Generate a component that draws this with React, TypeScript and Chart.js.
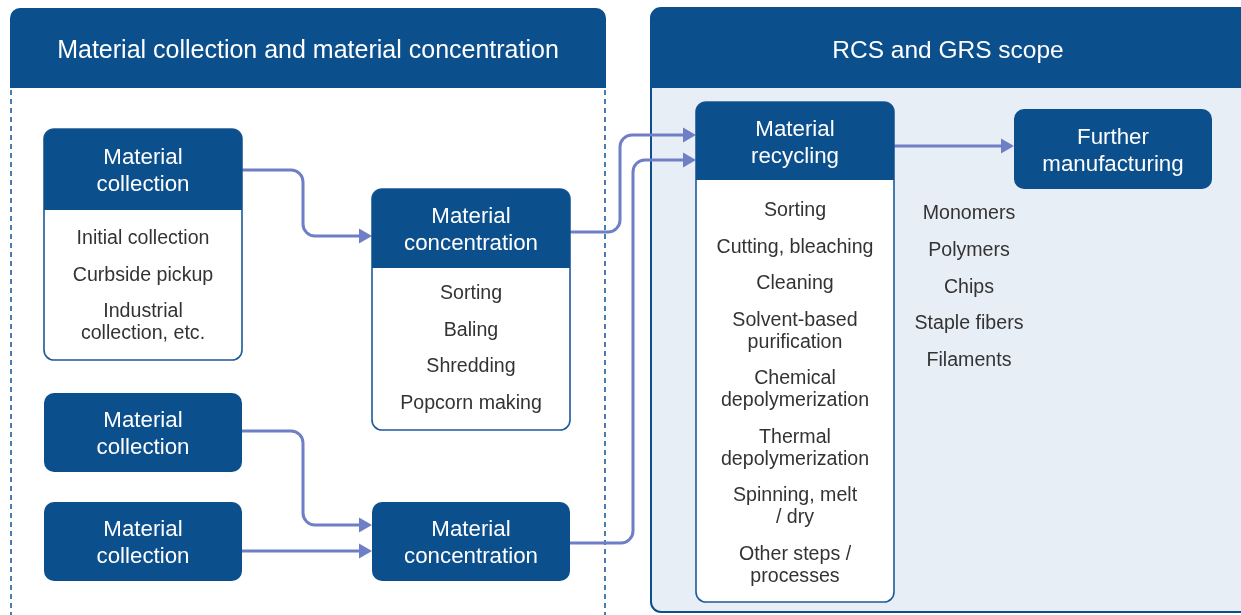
import React, { useEffect, useRef } from "react";
import { Chart, registerables } from "chart.js";

Chart.register(...registerables);

// ---- Text content (data) ----
const panelTitles = ["Material collection and material concentration", "RCS and GRS scope"];
const boxTitles = [
  "Material\ncollection",
  "Material\nconcentration",
  "Material\nrecycling",
  "Further\nmanufacturing",
];
const collectionSteps = ["Initial collection", "Curbside pickup", "Industrial\ncollection, etc."];
const concentrationSteps = ["Sorting", "Baling", "Shredding", "Popcorn making"];
const recyclingSteps = [
  "Sorting",
  "Cutting, bleaching",
  "Cleaning",
  "Solvent-based\npurification",
  "Chemical\ndepolymerization",
  "Thermal\ndepolymerization",
  "Spinning, melt\n/ dry",
  "Other steps /\nprocesses",
];
const outputProducts = ["Monomers", "Polymers", "Chips", "Staple fibers", "Filaments"];

// ---- Layout (axis units; axes span the whole canvas) ----
const W = 1241;
const H = 615;
const DARK = "#0c4f8d";
const ARROW = "#6e7fc6";
const BODY_TEXT = "#333333";
const FONT = '"Liberation Sans", Arial, Helvetica, sans-serif';
const TEXT_SHIFT = 1.5;

type Box = { title: number; items?: string[]; x0: number; x1: number; y0: number; yh: number; y1: number; first?: number };
const boxes: Box[] = [
  { title: 0, items: collectionSteps, x0: 44, x1: 242, y0: 129, yh: 210, y1: 360, first: 237.5 },
  { title: 1, items: concentrationSteps, x0: 372, x1: 570, y0: 189, yh: 268, y1: 430, first: 292.5 },
  { title: 0, x0: 44, x1: 242, y0: 393, yh: 472, y1: 472 },
  { title: 0, x0: 44, x1: 242, y0: 502, yh: 581, y1: 581 },
  { title: 1, x0: 372, x1: 570, y0: 502, yh: 581, y1: 581 },
  { title: 2, items: recyclingSteps, x0: 696, x1: 894, y0: 102, yh: 180, y1: 602, first: 209.5 },
  { title: 3, x0: 1014, x1: 1212, y0: 109, yh: 189, y1: 189 },
];
const arrows: number[][][] = [
  [[242, 170], [303, 170], [303, 236], [372, 236]],
  [[242, 431], [303, 431], [303, 525], [372, 525]],
  [[242, 551], [372, 551]],
  [[570, 232], [620, 232], [620, 135], [696, 135]],
  [[570, 543], [633, 543], [633, 160], [696, 160]],
  [[894, 146], [1014, 146]],
];

function rr(ctx: CanvasRenderingContext2D, x: number, y: number, w: number, h: number, r: number[]) {
  const [tl, tr, br, bl] = r;
  ctx.beginPath();
  ctx.moveTo(x + tl, y);
  ctx.lineTo(x + w - tr, y);
  ctx.arcTo(x + w, y, x + w, y + tr, tr);
  ctx.lineTo(x + w, y + h - br);
  ctx.arcTo(x + w, y + h, x + w - br, y + h, br);
  ctx.lineTo(x + bl, y + h);
  ctx.arcTo(x, y + h, x, y + h - bl, bl);
  ctx.lineTo(x, y + tl);
  ctx.arcTo(x, y, x + tl, y, tl);
  ctx.closePath();
}

const diagramPlugin = {
  id: "diagram",
  beforeDatasetsDraw(chart: any) {
    const ctx: CanvasRenderingContext2D = chart.ctx;
    const sx = chart.scales.x;
    const sy = chart.scales.y;
    const X = (v: number) => sx.getPixelForValue(v);
    const Y = (v: number) => sy.getPixelForValue(v);
    const TY = (v: number) => sy.getPixelForValue(v + TEXT_SHIFT);
    ctx.save();
    ctx.fillStyle = "#ffffff";
    ctx.fillRect(X(0), Y(0), X(W) - X(0), Y(H) - Y(0));

    // Left panel
    rr(ctx, X(10), Y(8), X(606) - X(10), Y(88) - Y(8), [10, 10, 0, 0]);
    ctx.fillStyle = DARK;
    ctx.fill();
    ctx.strokeStyle = "#1f5c9c";
    ctx.lineWidth = 1.6;
    ctx.setLineDash([5, 4]);
    [11, 605].forEach((xv) => {
      ctx.beginPath();
      ctx.moveTo(X(xv), Y(90));
      ctx.lineTo(X(xv), Y(H));
      ctx.stroke();
    });
    ctx.setLineDash([]);

    // Right panel
    rr(ctx, X(651), Y(8), X(1260) - X(651), Y(612) - Y(8), [10, 10, 10, 10]);
    ctx.fillStyle = "#e8eef6";
    ctx.fill();
    ctx.strokeStyle = DARK;
    ctx.lineWidth = 2;
    ctx.stroke();
    rr(ctx, X(651), Y(8), X(1260) - X(651), Y(88) - Y(8), [10, 10, 0, 0]);
    ctx.fillStyle = DARK;
    ctx.fill();

    ctx.textAlign = "center";
    ctx.textBaseline = "middle";
    ctx.fillStyle = "#ffffff";
    ctx.font = `25px ${FONT}`;
    ctx.fillText(panelTitles[0], X(308), TY(49.5));
    ctx.font = `24.5px ${FONT}`;
    ctx.fillText(panelTitles[1], X(948), TY(49.5));

    // Arrows
    ctx.strokeStyle = ARROW;
    ctx.fillStyle = ARROW;
    ctx.lineWidth = 3;
    ctx.lineJoin = "round";
    arrows.forEach((pts) => {
      const n = pts.length;
      const head = 13;
      const [lx, ly] = pts[n - 1];
      ctx.beginPath();
      ctx.moveTo(X(pts[0][0]), Y(pts[0][1]));
      for (let i = 1; i < n - 1; i++) {
        ctx.arcTo(X(pts[i][0]), Y(pts[i][1]), X(pts[i + 1][0]), Y(pts[i + 1][1]), 12);
      }
      ctx.lineTo(X(lx - head + 2), Y(ly));
      ctx.stroke();
      ctx.beginPath();
      ctx.moveTo(X(lx), Y(ly));
      ctx.lineTo(X(lx - head), Y(ly - 7.5));
      ctx.lineTo(X(lx - head), Y(ly + 7.5));
      ctx.closePath();
      ctx.fill();
    });

    // Boxes
    boxes.forEach((b) => {
      const bx = X(b.x0);
      const bw = X(b.x1) - X(b.x0);
      if (b.items) {
        rr(ctx, bx, Y(b.y0), bw, Y(b.y1) - Y(b.y0), [10, 10, 10, 10]);
        ctx.fillStyle = "#ffffff";
        ctx.fill();
        ctx.strokeStyle = "#1c5a9a";
        ctx.lineWidth = 1.6;
        ctx.stroke();
        rr(ctx, bx, Y(b.y0), bw, Y(b.yh) - Y(b.y0), [10, 10, 0, 0]);
        ctx.fillStyle = DARK;
        ctx.fill();
      } else {
        rr(ctx, bx, Y(b.y0), bw, Y(b.yh) - Y(b.y0), [10, 10, 10, 10]);
        ctx.fillStyle = DARK;
        ctx.fill();
      }
      const cx = (b.x0 + b.x1) / 2;
      const lines = boxTitles[b.title].split("\n");
      const mid = (b.y0 + b.yh) / 2 + 0.5;
      ctx.fillStyle = "#ffffff";
      ctx.font = `22.3px ${FONT}`;
      lines.forEach((t, i) => ctx.fillText(t, X(cx), TY(mid + (i - (lines.length - 1) / 2) * 27)));
      if (b.items) {
        ctx.fillStyle = BODY_TEXT;
        ctx.font = `19.6px ${FONT}`;
        let cur = b.first as number;
        b.items.forEach((it) => {
          const ls = it.split("\n");
          ls.forEach((t, i) => ctx.fillText(t, X(cx), TY(cur + i * 22)));
          cur += ls.length * 22 + 14.5;
        });
      }
    });

    // Output products
    ctx.fillStyle = BODY_TEXT;
    ctx.font = `19.6px ${FONT}`;
    outputProducts.forEach((p, i) => ctx.fillText(p, X(969), TY(212.5 + i * 36.6)));
    ctx.restore();
  },
};

export default function App() {
  const ref = useRef<HTMLCanvasElement | null>(null);
  useEffect(() => {
    if (!ref.current) return;
    const chart = new Chart(ref.current, {
      type: "scatter",
      data: { datasets: [{ data: [], pointRadius: 0 }] },
      options: {
        animation: false,
        responsive: true,
        maintainAspectRatio: false,
        events: [],
        layout: { padding: 0 },
        plugins: { legend: { display: false }, tooltip: { enabled: false } },
        scales: {
          x: { type: "linear", min: 0, max: W, display: false },
          y: { type: "linear", min: 0, max: H, reverse: true, display: false },
        },
      },
      plugins: [diagramPlugin],
    });
    return () => chart.destroy();
  }, []);
  return (
    <div style={{ position: "fixed", left: 0, top: 0, width: W, height: H, background: "#fff" }}>
      <canvas ref={ref} />
    </div>
  );
}
